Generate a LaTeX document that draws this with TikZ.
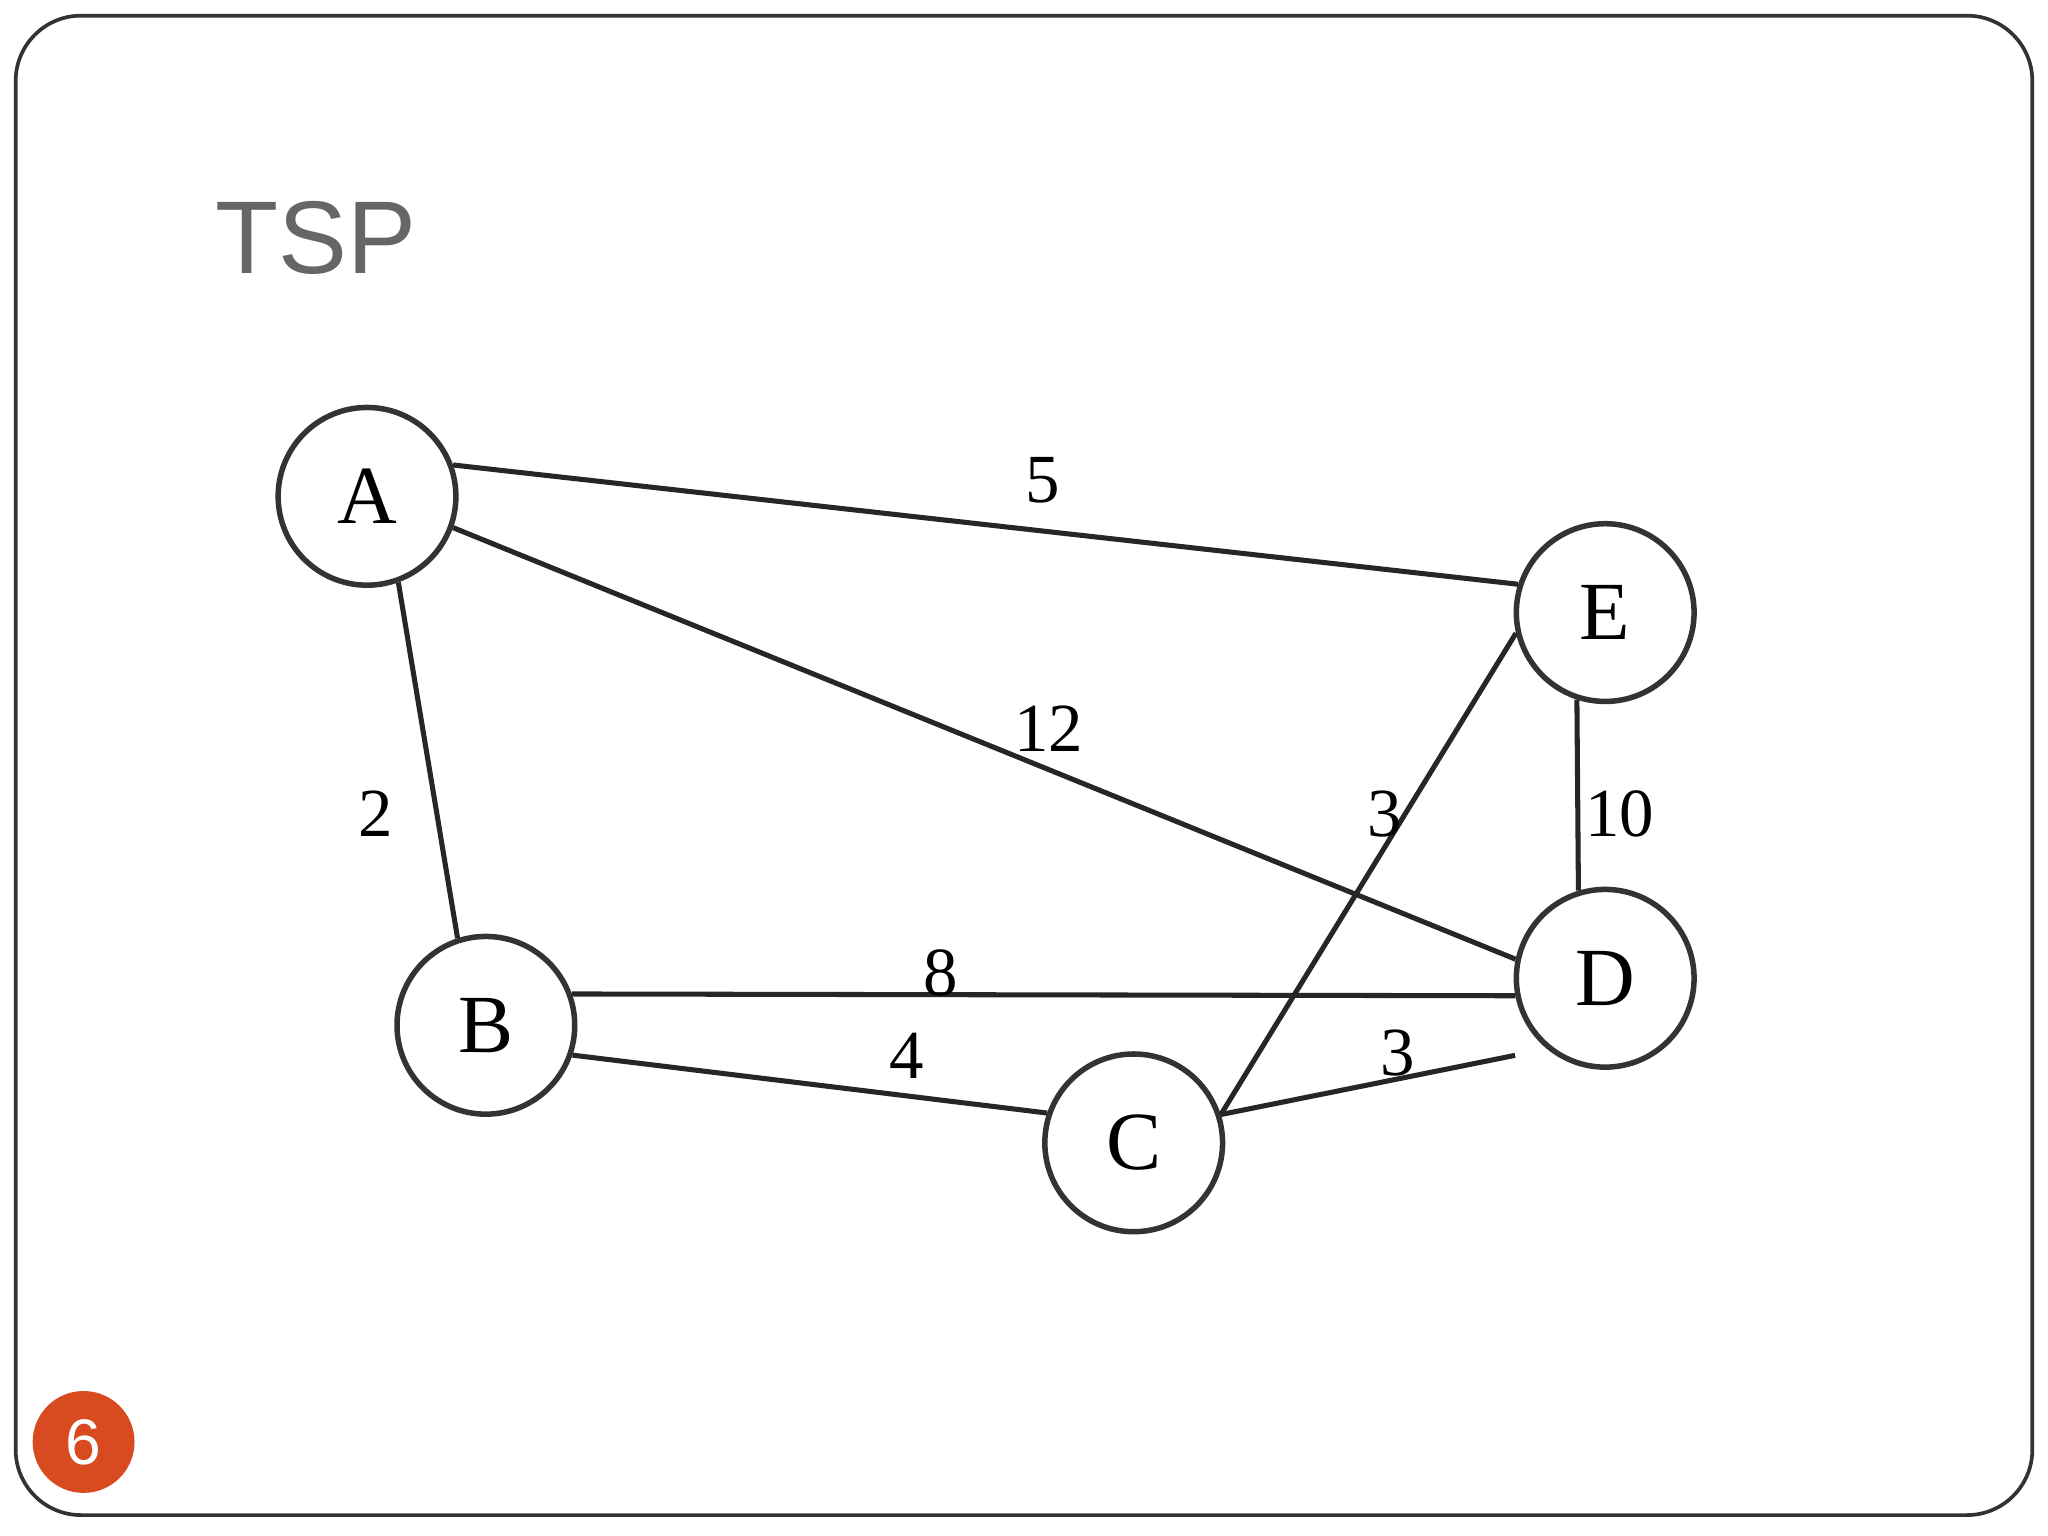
\documentclass[tikz,border=0pt]{standalone}
\usepackage{fontspec}
\setmainfont{Liberation Serif}
\newfontfamily\titlefont{Liberation Sans}
\begin{document}
\begin{tikzpicture}[x=0.01cm,y=-0.01cm,
  vert/.style={circle,draw=black!80,line width=1.2pt,minimum size=1.36cm,inner sep=0pt,font=\fontsize{18}{20}\selectfont},
  edge/.style={line width=1.1pt,black!85},
  wlab/.style={font=\fontsize{15}{17}\selectfont,inner sep=0pt}]
\useasboundingbox (0,0) rectangle (1568,1176);
\fill[white] (0,0) rectangle (1568,1176);
\draw[black!80,line width=0.8pt,rounded corners=0.5cm] (12,12) rectangle (1556,1160);
\node[anchor=center,text=black!60,font=\titlefont\fontsize{22.5}{26}\selectfont] (t) at (242,182) {TSP};
\node[vert] (A) at (281,380) {A};
\node[vert] (E) at (1229,469) {E};
\node[vert] (D) at (1229,749) {D};
\node[vert] (B) at (372,785) {B};
\node[vert] (C) at (868,875) {C};
\coordinate (dc) at (1160,808);
\draw[edge] (A.20) -- (E.162);
\draw[edge] (A.-20) -- (D.168);
\draw[edge] (A.-70) -- (B.108);
\draw[edge] (B.20) -- (D.191);
\draw[edge] (B.-19) -- (C.161);
\draw[edge] (C.18) -- (dc);
\draw[edge] (C.18) -- (E.193);
\draw[edge] (E.-108) -- (D.107);
\node[wlab] (w1) at (798,368) {5};
\node[wlab] (w2) at (803,558) {12};
\node[wlab] (w3) at (288,623) {2};
\node[wlab] (w4) at (1060,623) {3};
\node[wlab] (w5) at (1240,623) {10};
\node[wlab] (w6) at (720,745) {8};
\node[wlab] (w7) at (694,808) {4};
\node[wlab] (w8) at (1070,806) {3};
\fill[fill={rgb,255:red,216;green,74;blue,31}] (64,1104) circle (39);
\node[text=white,font=\titlefont\fontsize{14}{16}\selectfont] (pn) at (64,1104) {6};
\end{tikzpicture}
\end{document}
